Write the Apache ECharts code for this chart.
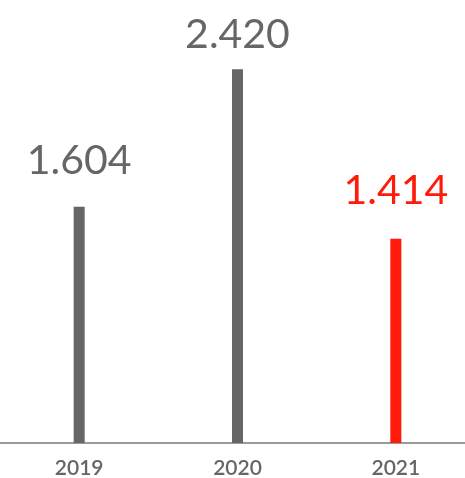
<!DOCTYPE html>
<html>
<head>
<meta charset="utf-8">
<script src="https://cdn.jsdelivr.net/npm/echarts@6/dist/echarts.min.js"></script>
<style>
  html, body { margin: 0; padding: 0; background: #fff; }
  #main { width: 465px; height: 478px; }
</style>
</head>
<body>
<div id="main"></div>
<script>
// values as printed above the bars
const years = ["2019", "2020", "2021"];
const values = [1.604, 2.42, 1.414];
const valueLabels = ["1.604", "2.420", "1.414"];
const barColors = ["#666666", "#666666", "#ff1a0a"];
const labelGap = [25, 14, 27];

let myChart = echarts.init(document.getElementById("main"));

let option = {
  animation: false,
  grid: {
    left: 0,
    width: 475,
    top: 39,
    bottom: 35,
    containLabel: false,
    outerBoundsMode: "none"
  },
  xAxis: {
    type: "category",
    data: years,
    axisTick: { show: false },
    axisLine: { lineStyle: { color: "#777", width: 1.5 } },
    axisLabel: {
      color: "#666",
      fontFamily: "Lato",
      fontSize: 21,
      fontWeight: 600,
      margin: 15
    }
  },
  yAxis: {
    type: "value",
    min: 0.2,
    max: 2.6,
    show: false,
    splitLine: { show: false }
  },
  series: [
    {
      type: "bar",
      barWidth: 11,
      data: values.map((v, i) => ({
        value: v,
        itemStyle: { color: barColors[i] },
        label: { color: barColors[i], distance: labelGap[i] }
      })),
      label: {
        show: true,
        position: "top",
        fontFamily: "Lato",
        fontSize: 41,
        fontWeight: 400,
        formatter: p => valueLabels[p.dataIndex]
      }
    }
  ]
};

myChart.setOption(option);
</script>
</body>
</html>
